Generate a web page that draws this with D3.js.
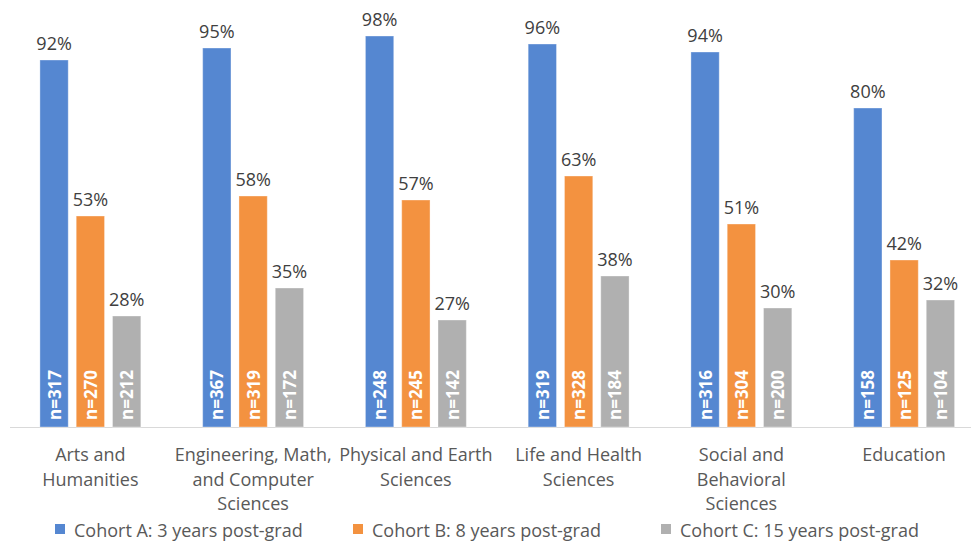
<!DOCTYPE html>
<html>
<head>
<meta charset="utf-8">
<script src="https://cdn.jsdelivr.net/npm/d3@7"></script>
<style>
  html, body { margin: 0; padding: 0; background: #fff; }
  svg { display: block; font-family: "Open Sans", "Noto Sans", sans-serif; }
</style>
</head>
<body>
<svg id="chart" width="971" height="541"></svg>
<script>
// Fields of study (each entry holds the wrapped lines of the axis label)
const categories = [
  ["Arts and", "Humanities"],
  ["Engineering, Math,", "and Computer", "Sciences"],
  ["Physical and Earth", "Sciences"],
  ["Life and Health", "Sciences"],
  ["Social and", "Behavioral", "Sciences"],
  ["Education"]
];
const seriesNames = [
  "Cohort A: 3 years post-grad",
  "Cohort B: 8 years post-grad",
  "Cohort C: 15 years post-grad"
];
const seriesColors = ["#5587d1", "#f39240", "#b0b0b0"];

// Percent of each cohort, by field
const cohortA = [92, 95, 98, 96, 94, 80];
const cohortB = [53, 58, 57, 63, 51, 42];
const cohortC = [28, 35, 27, 38, 30, 32];

// Sample sizes, by field
const nA = [317, 367, 248, 319, 316, 158];
const nB = [270, 319, 245, 328, 304, 125];
const nC = [212, 172, 142, 184, 200, 104];

const values = [cohortA, cohortB, cohortC];
const counts = [nA, nB, nC];

const svg = d3.select("#chart");
const baseline = 427;

const x0 = d3.scaleBand()
  .domain(d3.range(categories.length))
  .range([9, 985.5])
  .paddingInner(0.38)
  .paddingOuter(0.19);

const x1 = d3.scaleBand()
  .domain(d3.range(seriesNames.length))
  .range([0, x0.bandwidth()])
  .paddingInner(0.22);

const y = d3.scaleLinear().domain([0, 100]).range([428, 28]);

// Category axis line
svg.append("line")
  .attr("x1", 10).attr("x2", 971)
  .attr("y1", baseline + 0.5).attr("y2", baseline + 0.5)
  .attr("stroke", "#d9d9d9").attr("stroke-width", 1);

const groups = svg.selectAll("g.cat")
  .data(categories)
  .join("g")
  .attr("class", "cat")
  .attr("transform", (d, i) => `translate(${x0(i)},0)`);

seriesNames.forEach((name, s) => {
  groups.append("rect")
    .attr("x", x1(s))
    .attr("width", x1.bandwidth())
    .attr("y", (d, i) => y(values[s][i]))
    .attr("height", (d, i) => baseline - y(values[s][i]))
    .attr("fill", seriesColors[s])
    .attr("stroke", "#ffffff")
    .attr("stroke-opacity", 0.35)
    .attr("stroke-width", 1);

  // Percent labels above bars
  groups.append("text")
    .attr("x", x1(s) + x1.bandwidth() / 2)
    .attr("y", (d, i) => y(values[s][i]) - 10)
    .attr("text-anchor", "middle")
    .attr("font-size", 18)
    .attr("fill", "#404040")
    .text((d, i) => values[s][i] + "%");

  // Sample sizes inside bars, rotated
  groups.append("text")
    .attr("transform", (d, i) =>
      `translate(${x1(s) + x1.bandwidth() / 2 + 6.5},${baseline - 7}) rotate(-90)`)
    .attr("text-anchor", "start")
    .attr("font-size", 17)
    .attr("font-weight", "bold")
    .attr("fill", "#ffffff")
    .text((d, i) => "n=" + counts[s][i]);
});

// Category labels
groups.append("text")
  .attr("x", x0.bandwidth() / 2)
  .attr("text-anchor", "middle")
  .attr("font-size", 18)
  .attr("fill", "#595959")
  .selectAll("tspan")
  .data(d => d)
  .join("tspan")
  .attr("x", x0.bandwidth() / 2)
  .attr("y", (d, j) => 461 + j * 24.5)
  .text(d => d);

// Legend
const legendX = [55, 353, 661];
const legend = svg.selectAll("g.legend")
  .data(seriesNames)
  .join("g")
  .attr("class", "legend")
  .attr("transform", (d, i) => `translate(${legendX[i]},0)`);

legend.append("rect")
  .attr("x", 0).attr("y", 524)
  .attr("width", 10).attr("height", 10)
  .attr("fill", (d, i) => seriesColors[i]);

legend.append("text")
  .attr("x", 19).attr("y", 537)
  .attr("font-size", 18)
  .attr("fill", "#595959")
  .text(d => d);
</script>
</body>
</html>
